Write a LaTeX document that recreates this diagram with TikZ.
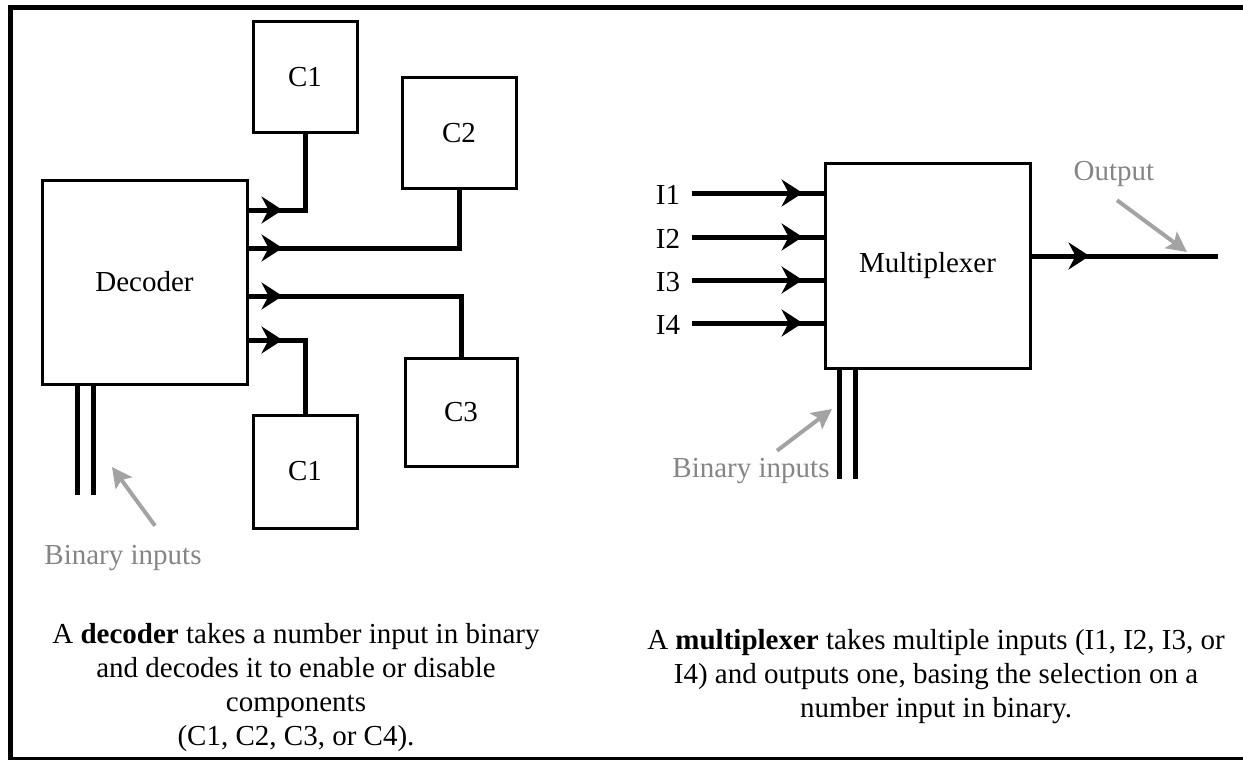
\documentclass[tikz,border=0pt]{standalone}
\usepackage{fontspec}
\setmainfont{Liberation Serif}
\usetikzlibrary{arrows.meta,calc,decorations.markings}
\definecolor{note}{HTML}{858585}
\definecolor{pointer}{HTML}{A3A3A3}
\tikzset{
  box/.style={draw,line width=3pt,inner sep=0pt},
  wire/.style={line width=5pt},
  midarrow/.style={postaction={decorate},decoration={markings,
    mark=at position #1 with {\arrow{Stealth[length=21pt,width=27pt,inset=7pt]}}}},
  hint/.style={pointer,line width=4pt,-{Stealth[length=20pt,width=20pt,inset=4pt]}},
}

\begin{document}
\begin{tikzpicture}[x=1pt,y=-1pt,font=\fontsize{29}{34}\selectfont]
  \useasboundingbox (0,0) rectangle (1243,760);
  \draw[line width=5pt] (1243,8) -- (10,8) -- (10,757);
  \draw[line width=3pt] (8,758.5) -- (1243,758.5);
  % decoder
  \node[box,minimum width=205,minimum height=204] (dec) at (144.5,282) {Decoder};
  \node[box,minimum width=104,minimum height=110] (c1a) at (305,77) {C1};
  \node[box,minimum width=114,minimum height=110] (c2) at (459,133) {C2};
  \node[box,minimum width=112,minimum height=108] (c3) at (461,412) {C3};
  \node[box,minimum width=104,minimum height=113] (c1b) at (305,471.5) {C1};
  \draw[wire,midarrow=34pt] (dec.east |- 0,210) -| (c1a.south);
  \draw[wire,midarrow=34pt] (dec.east |- 0,248) -| (c2.south);
  \draw[wire,midarrow=34pt] (dec.east |- 0,296) -| (c3.north);
  \draw[wire,midarrow=34pt] (dec.east |- 0,340) -| (c1b.north);
  \draw[wire] ($(dec.south west)+(37,0)$) -- ++(0,109);
  \draw[wire] ($(dec.south west)+(53,0)$) -- ++(0,109);
  \node[note] (binL) at (123,558) {Binary inputs};
  \coordinate (binLtip) at (112,467);
  \draw[hint] ($(binL.north)+(32,-16)$) -- (binLtip);
  \node[align=center] (capL) at (296,688)
    {A \textbf{decoder} takes a number input in binary\\and decodes it to enable or disable\\components\\(C1, C2, C3, or C4).};
  % multiplexer
  \node[box,minimum width=205,minimum height=205] (mux) at (927.5,265.5) {Multiplexer};
  \foreach \n/\y in {1/193,2/237,3/280,4/323}{
    \node (i\n) at (668,\y+2) {I\n};
    \draw[wire,midarrow=111pt] ($(i\n.east)+(8,-2)$) -- (mux.west |- 0,\y);
  }
  \coordinate (out) at (1218,256);
  \draw[wire,midarrow=58pt] (mux.east |- out) -- (out);
  \node[note] (outL) at (1114,174) {Output};
  \coordinate (outtip) at (1187,252);
  \draw[hint] ($(outL.south)+(3,10)$) -- (outtip);
  \draw[wire] ($(mux.south west)+(16,0)$) -- ++(0,109);
  \draw[wire] ($(mux.south west)+(32,0)$) -- ++(0,109);
  \node[note] (binR) at (751,471) {Binary inputs};
  \coordinate (binRtip) at (832,409);
  \draw[hint] ($(binR.north)+(26,-4)$) -- (binRtip);
  \node[align=center] (capR) at (936,677)
    {A \textbf{multiplexer} takes multiple inputs (I1, I2, I3, or\\I4) and outputs one, basing the selection on a\\number input in binary.};
\end{tikzpicture}
\end{document}
